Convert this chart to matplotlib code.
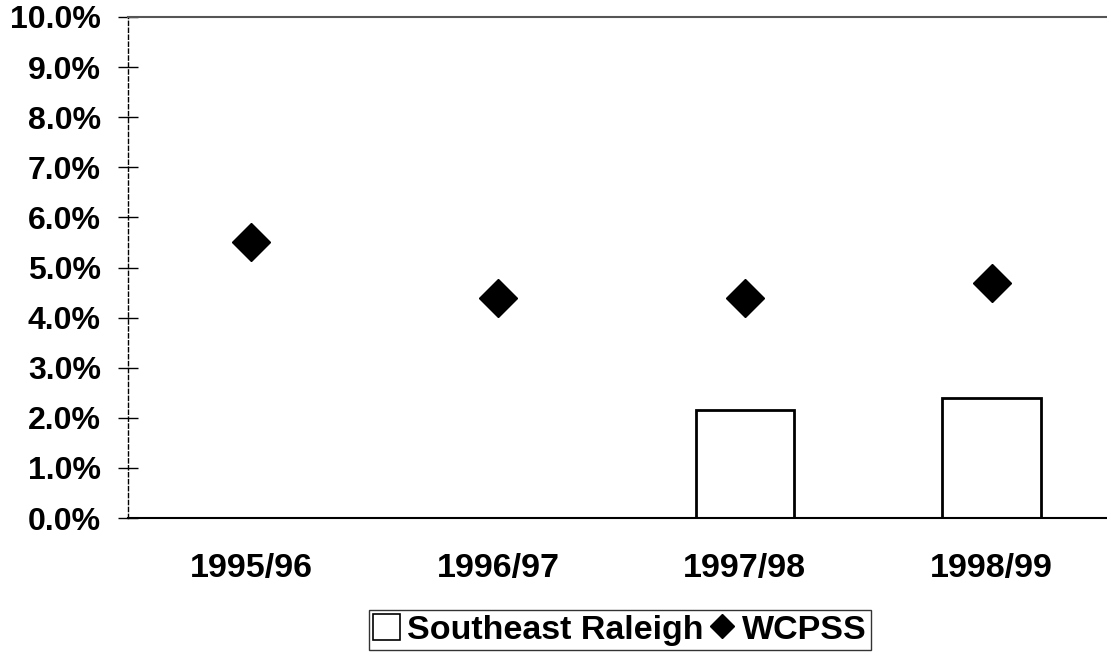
import matplotlib
matplotlib.use("Agg")
import matplotlib.pyplot as plt
from matplotlib.lines import Line2D
from matplotlib.patches import Patch

categories = ["1995/96", "1996/97", "1997/98", "1998/99"]
southeast_raleigh = [None, None, 2.15, 2.4]
wcpss = [5.5, 4.4, 4.4, 4.7]
y_ticks = [0, 1, 2, 3, 4, 5, 6, 7, 8, 9, 10]
y_tick_labels = [f"{v:.1f}%" for v in y_ticks]

plt.rcParams['font.family'] = ['Liberation Sans', 'DejaVu Sans']

fig = plt.figure(figsize=(11.07, 6.57), dpi=100)
ax = fig.add_axes([128/1107, 1-518/657, 987/1107, (518-17)/657])

x = list(range(len(categories)))
bx = [i for i, v in zip(x, southeast_raleigh) if v is not None]
bv = [v for v in southeast_raleigh if v is not None]
ax.bar(bx, bv, width=0.4, facecolor='white', edgecolor='black', linewidth=2, zorder=2)
ax.plot(x, wcpss, linestyle='none', marker='D', markersize=19, color='black', zorder=3)

ax.set_xlim(-0.5, 3.5)
ax.set_ylim(0, 10)
ax.set_yticks(y_ticks)
ax.set_yticklabels(y_tick_labels, fontsize=23, fontweight='bold')
ax.set_xticks(x)
ax.set_xticklabels(categories, fontsize=24.5, fontweight='bold')
ax.tick_params(axis='x', length=0, pad=25)
ax.tick_params(axis='y', direction='inout', length=15, width=1, pad=12)

for s in ['right']:
    ax.spines[s].set_visible(False)
ax.spines['top'].set_color('#555555')
ax.spines['top'].set_linewidth(1.5)
ax.spines['left'].set_linestyle((0, (3, 2)))
ax.spines['left'].set_linewidth(1)
ax.spines['bottom'].set_linewidth(1.5)

handles = [
    Patch(facecolor='white', edgecolor='black', linewidth=1.2, label='Southeast Raleigh'),
    Line2D([], [], linestyle='none', marker='D', markersize=12, color='black', label='WCPSS'),
]
leg = fig.legend(handles=handles, loc='center', bbox_to_anchor=(620/1107, 1-630/657),
                 ncol=2, frameon=True, fancybox=False, edgecolor='black',
                 prop={'size': 24.5, 'weight': 'bold'}, handlelength=0.8, handleheight=0.8,
                 handletextpad=0.2, columnspacing=0.15, borderpad=0.12, borderaxespad=0)
leg.get_frame().set_linewidth(1)

fig.savefig("out.png", dpi=100, facecolor='white')
